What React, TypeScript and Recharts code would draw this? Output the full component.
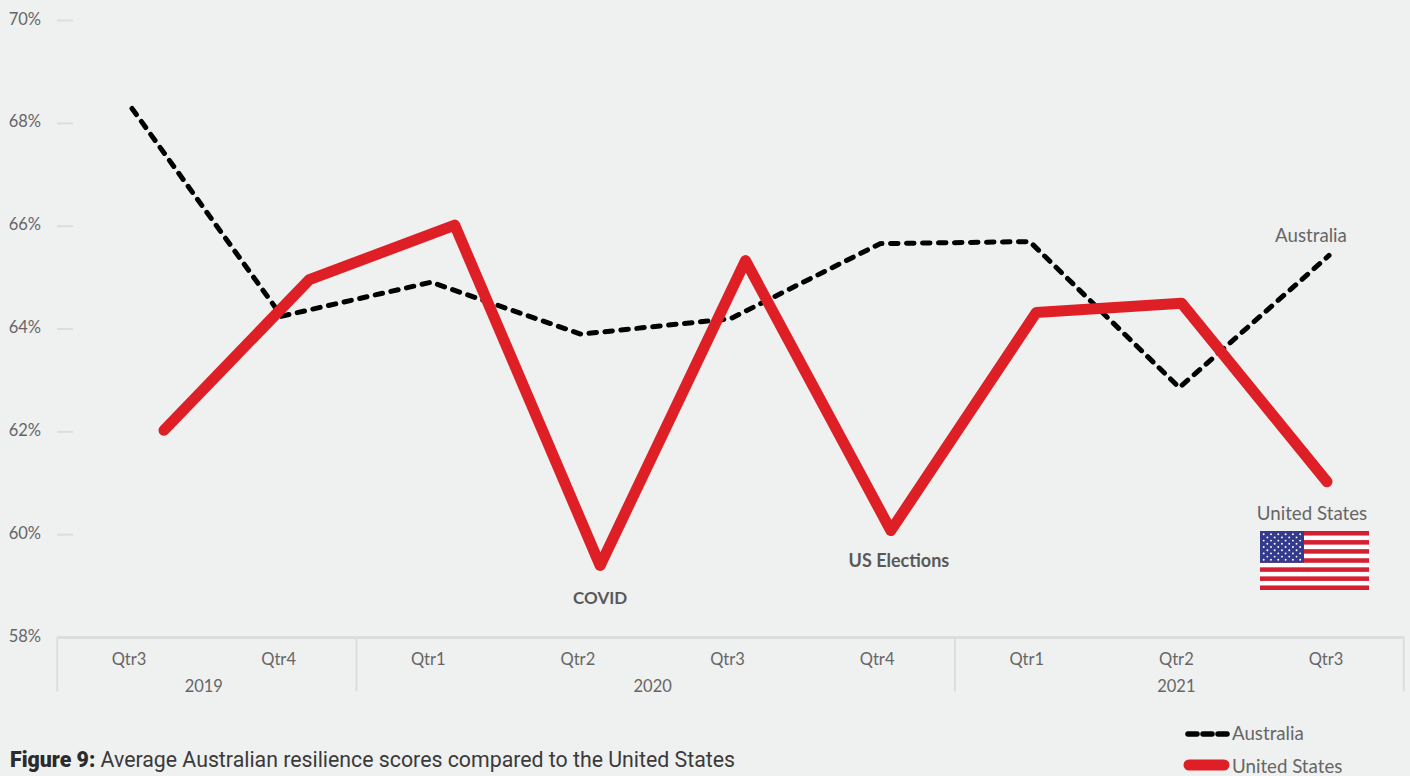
import { LineChart, Line, XAxis, YAxis, LabelList } from "recharts";

const quarters = ["Qtr3", "Qtr4", "Qtr1", "Qtr2", "Qtr3", "Qtr4", "Qtr1", "Qtr2", "Qtr3"];
const years = ["2019", "2019", "2020", "2020", "2020", "2020", "2021", "2021", "2021"];
const australia = [68.29, 64.25, 64.91, 63.9, 64.2, 65.66, 65.7, 62.86, 65.43];
const unitedStates = [62.03, 64.96, 66.02, 59.4, 65.33, 60.08, 64.32, 64.5, 61.03];
const yTicks = [58, 60, 62, 64, 66, 68, 70];

// notes that sit next to a point of a series, by point index
const usNotes = [
  { index: 3, text: "COVID", dx: 0, dy: 38, size: 17, bold: true },
  { index: 5, text: "US Elections", dx: 8, dy: 36, size: 18, bold: true },
  { index: 8, text: "United States", dx: -15, dy: 38, size: 18.7, bold: false },
];
const australiaNotes = [{ index: 8, text: "Australia", dx: -18, dy: -13, size: 18.7, bold: false }];

const data = quarters.map((q, i) => ({
  period: years[i] + " " + q,
  australia: australia[i],
  unitedStates: unitedStates[i],
}));

const TEXT = "#666666";
const RULE = "#dcdedd";
const RED = "#df1f26";
const BAND = 149.6;
const LABEL_FONT = "Lato, sans-serif";

function YTick({ x, y, payload }: any) {
  return (
    <g>
      <text x={x - 16} y={y + 4} textAnchor="end" fontSize={16.5} fontFamily={LABEL_FONT} fill={TEXT}>
        {payload.value}%
      </text>
      {payload.value > 58 && <line x1={x} x2={x + 16} y1={y} y2={y} stroke={RULE} strokeWidth={2} />}
    </g>
  );
}

// two-level category axis: quarter, then the year with separators between years
function QuarterTick({ x, y, payload, index }: any) {
  const year = payload.value.split(" ")[0];
  const first = years.indexOf(year) === index;
  const span = years.filter((v) => v === year).length;
  const left = x - BAND / 2;
  return (
    <g fontFamily={LABEL_FONT} fontSize={16.5} fill={TEXT} textAnchor="middle">
      <text x={x - 3} y={y + 27}>{quarters[index]}</text>
      {first && (
        <>
          <line x1={left} x2={left} y1={y} y2={y + 54} stroke={RULE} strokeWidth={2} />
          <text x={left + (span * BAND) / 2 - 3} y={y + 54}>{year}</text>
        </>
      )}
      {index === quarters.length - 1 && (
        <line x1={x + BAND / 2} x2={x + BAND / 2} y1={y} y2={y + 54} stroke={RULE} strokeWidth={2} />
      )}
    </g>
  );
}

const noteRenderer = (notes: typeof usNotes) => (props: any) => {
  const note = notes.find((n) => n.index === props.index);
  if (!note) return null;
  return (
    <text
      x={props.x + note.dx}
      y={props.y + note.dy}
      textAnchor="middle"
      fontSize={note.size}
      fontWeight={note.bold ? 700 : 400}
      fontFamily={LABEL_FONT}
      fill={note.bold ? "#595959" : TEXT}
    >
      {note.text}
    </text>
  );
};

function Flag() {
  const stripe = 59 / 13;
  const stars: [number, number][] = [];
  for (let row = 0; row < 9; row++) {
    const count = row % 2 === 0 ? 6 : 5;
    for (let c = 0; c < count; c++) {
      stars.push([3.7 + c * 7.3 + (row % 2 === 0 ? 0 : 3.65), 3.2 + row * 3.2]);
    }
  }
  return (
    <svg width={109} height={59} style={{ position: "absolute", left: 1260, top: 531 }}>
      <rect width={109} height={59} fill="#ffffff" />
      {[0, 2, 4, 6, 8, 10, 12].map((s) => (
        <rect key={s} y={s * stripe} width={109} height={stripe} fill="#d52033" />
      ))}
      <rect width={44} height={stripe * 7} fill="#343b8d" />
      {stars.map(([cx, cy], i) => (
        <circle key={i} cx={cx} cy={cy} r={0.95} fill="#ffffff" />
      ))}
    </svg>
  );
}

export default function App() {
  return (
    <div style={{ position: "absolute", left: 0, top: 0, width: 1410, height: 776, background: "#eff0f0", overflow: "hidden" }}>
      <LineChart width={1410} height={776} data={data} margin={{ top: 20.5, right: 6, bottom: 88.5, left: 0 }}>
        <XAxis
          dataKey="period"
          xAxisId="au"
          height={50}
          interval={0}
          padding={{ left: 75, right: 75 }}
          stroke={RULE}
          strokeWidth={3}
          tickLine={false}
          tickSize={0}
          tickMargin={0}
          tick={<QuarterTick />}
        />
        {/* the US series is plotted slightly offset from the quarter centres */}
        <XAxis dataKey="period" xAxisId="us" hide interval={0} padding={{ left: 107, right: 77 }} />
        <YAxis
          width={57}
          domain={[58, 70]}
          ticks={yTicks}
          interval={0}
          axisLine={false}
          tickLine={false}
          tickSize={0}
          tickMargin={0}
          tick={<YTick />}
        />
        <Line
          xAxisId="au"
          dataKey="australia"
          stroke="#000000"
          strokeWidth={5}
          strokeDasharray="7.5 8.5"
          strokeLinecap="round"
          dot={false}
          isAnimationActive={false}
        >
          <LabelList content={noteRenderer(australiaNotes)} />
        </Line>
        <Line
          xAxisId="us"
          dataKey="unitedStates"
          stroke={RED}
          strokeWidth={11}
          strokeLinecap="round"
          strokeLinejoin="round"
          dot={false}
          isAnimationActive={false}
        >
          <LabelList content={noteRenderer(usNotes)} />
        </Line>
      </LineChart>

      <Flag />

      <svg width={50} height={50} style={{ position: "absolute", left: 1182, top: 724 }}>
        <line x1={6} x2={45} y1={10} y2={10} stroke="#000000" strokeWidth={5.5} strokeDasharray="9 6" strokeLinecap="round" />
        <line x1={7} x2={42} y1={41} y2={41} stroke={RED} strokeWidth={11} strokeLinecap="round" />
      </svg>
      <div style={{ position: "absolute", left: 1232, top: 722, fontFamily: LABEL_FONT, fontSize: 18.7, lineHeight: "22px", color: TEXT }}>Australia</div>
      <div style={{ position: "absolute", left: 1232, top: 755, fontFamily: LABEL_FONT, fontSize: 18.7, lineHeight: "22px", color: TEXT, whiteSpace: "nowrap" }}>United States</div>

      <div style={{ position: "absolute", left: 10, top: 747, fontFamily: "Roboto, sans-serif", fontSize: 21.3, lineHeight: "26px", color: "#3a3a3a", whiteSpace: "nowrap" }}>
        <span style={{ fontWeight: 900, color: "#2b2b2b" }}>Figure 9:</span> Average Australian resilience scores compared to the United States
      </div>
    </div>
  );
}
